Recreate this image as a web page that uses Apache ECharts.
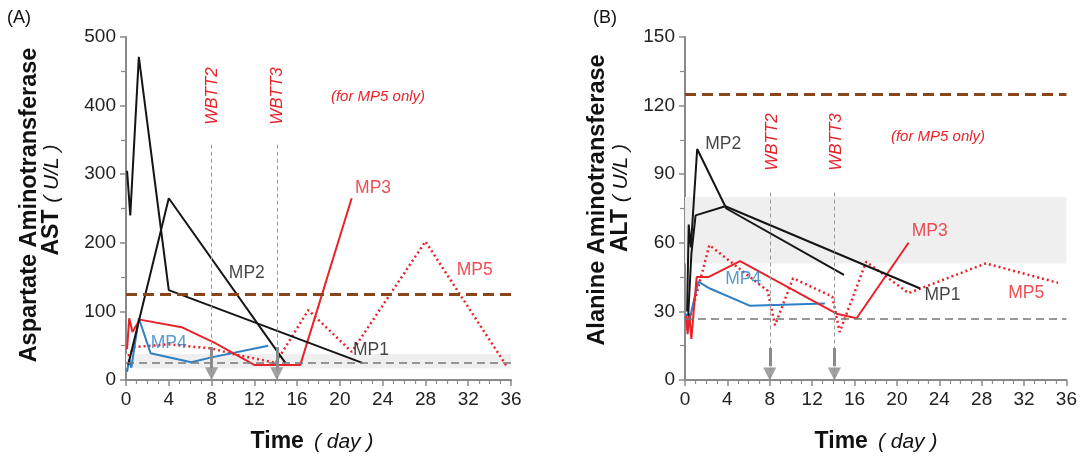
<!DOCTYPE html>
<html>
<head>
<meta charset="utf-8">
<script src="https://cdn.jsdelivr.net/npm/echarts@6/dist/echarts.min.js"></script>
<style>
  html, body { margin: 0; padding: 0; background: #fff; }
  #chart { width: 1080px; height: 457px; }
</style>
</head>
<body>
<div id="chart"></div>
<script>
// AST panel (A): [day, U/L]
const astMP1 = [[0.1, 305], [0.4, 240], [1.2, 471], [4.0, 131], [22.1, 25]]
const astMP2 = [[0.2, 22], [4.0, 265], [14.9, 25]]
const astMP3 = [[0.1, 45], [0.3, 90], [0.6, 70], [1.3, 88], [5.2, 77], [8.3, 54], [12, 22], [16.3, 22], [21.1, 265]]
const astMP4 = [[0.1, 12], [0.3, 30], [0.5, 18], [1.2, 90], [2.3, 39], [6.1, 26], [8, 33], [13.3, 50]]
const astMP5 = [[0.2, 35], [0.8, 48], [4, 52], [8, 46], [10, 38], [14, 25], [17.05, 102], [21.1, 41], [28, 202], [35.6, 20]]

// ALT panel (B): [day, U/L]
const altMP1 = [[0.3, 28], [0.6, 55], [1.0, 72], [3.8, 76], [22.2, 40]]
const altMP2 = [[0.2, 30], [0.35, 68], [0.55, 58], [1.15, 101], [3.9, 75], [15, 46]]
const altMP3 = [[0.1, 28], [0.25, 20], [0.4, 29], [0.6, 18], [1.1, 45], [2.2, 45], [5.2, 52], [14.3, 29], [16.2, 27], [21.1, 60]]
const altMP4 = [[0.1, 29], [0.3, 24], [1.25, 43], [2.35, 40], [6.1, 32.5], [13.2, 33.5]]
const altMP5 = [[0.2, 22], [2.3, 59], [7.8, 39], [8.5, 24], [10.2, 44.5], [13.9, 36.5], [14.6, 21], [17.1, 51.7], [21.1, 38], [28.4, 51], [35.2, 42.5]]

// reference levels
const astUpper = 125, astLower = 25, astBand = [17, 38]
const altUpper = 125, altLower = 27, altBand = [51, 80]

// whole body transfusion days
const wbttDays = [8, 14.1]
const wbttNames = ['WBTT2', 'WBTT3']

// series labels [name, day, value]
const astLabels = [['MP1', 22.9, 44], ['MP2', 11.3, 156], ['MP3', 23.1, 280], ['MP4', 4, 54], ['MP5', 32.6, 160]]
const altLabels = [['MP1', 24.3, 37], ['MP2', 3.6, 103], ['MP3', 23.1, 65], ['MP4', 5.5, 44], ['MP5', 32.2, 38]]

const FONT = '"Liberation Sans", Arial, sans-serif'
const BLACK = '#151515', RED = '#e8232a', BLUE = '#2d7fc6', BROWN = '#8a4518', GREY = '#8a8a8a'
const labelColor = { MP1: BLACK, MP2: BLACK, MP3: RED, MP4: BLUE, MP5: RED }

const chart = echarts.init(document.getElementById('chart'))

const xAxisBase = (gi) => ({
  type: 'value', gridIndex: gi, min: 0, max: 36, interval: 4,
  axisLine: { lineStyle: { color: GREY, width: 2 } },
  axisTick: { length: 6, lineStyle: { color: GREY, width: 1.5 } },
  minorTick: { show: true, splitNumber: 4, length: 4, lineStyle: { color: GREY, width: 1.2 } },
  axisLabel: { color: '#222', fontSize: 19, fontFamily: FONT, margin: 10 },
  splitLine: { show: false }
})
const yAxisBase = (gi, max, interval) => ({
  type: 'value', gridIndex: gi, min: 0, max: max, interval: interval,
  axisLine: { show: true, lineStyle: { color: GREY, width: 2 } },
  axisTick: { show: true, length: 6, lineStyle: { color: GREY, width: 1.5 } },
  minorTick: { show: true, splitNumber: 2, length: 5, lineStyle: { color: GREY, width: 1.2 } },
  axisLabel: { color: '#222', fontSize: 19, fontFamily: FONT, margin: 10 },
  splitLine: { show: false }
})

const line = (gi, data, color, dotted) => ({
  type: 'line', xAxisIndex: gi, yAxisIndex: gi, data: data,
  symbol: 'none', z: 4,
  lineStyle: { color: color, width: dotted ? 2.5 : 2, type: dotted ? [2, 3] : 'solid' }
})

// helper series: band, reference lines, wbtt markers
const refs = (gi, upper, lower, band, top, shaftTop, shaftBottom) => ({
  type: 'line', xAxisIndex: gi, yAxisIndex: gi, data: [], z: 1,
  markArea: {
    silent: true,
    itemStyle: { color: '#efefef' },
    data: [[{ yAxis: band[0] }, { yAxis: band[1] }]]
  },
  markLine: {
    silent: true, symbol: 'none', label: { show: false },
    data: [
      { yAxis: upper, lineStyle: { color: BROWN, width: 3, type: [11, 6] } },
      { yAxis: lower, lineStyle: { color: '#777', width: 1.5, type: [8, 5] } },
      ...wbttDays.map(d => [
        { coord: [d, top], lineStyle: { color: '#999', width: 1, type: [4, 3] } },
        { coord: [d, 0] }
      ]),
      ...wbttDays.map(d => [
        { coord: [d, shaftTop], lineStyle: { color: GREY, width: 3, type: 'solid' } },
        { coord: [d, shaftBottom] }
      ])
    ]
  }
})

const heads = (gi, headY) => ({
  type: 'scatter', xAxisIndex: gi, yAxisIndex: gi, z: 5,
  symbol: 'path://M0,0 L10,0 L5,10 Z', symbolSize: [13, 13],
  itemStyle: { color: GREY },
  data: wbttDays.map(d => [d, headY])
})

const labels = (gi, items) => ({
  type: 'scatter', xAxisIndex: gi, yAxisIndex: gi, z: 6, symbolSize: 0,
  data: items.map(it => ({
    value: [it[1], it[2]],
    label: { show: true, position: 'inside', formatter: it[0], color: labelColor[it[0]], fontSize: 17.5, fontFamily: FONT }
  }))
})

const txt = (x, y, text, font, fill, rot) => ({
  type: 'text', x: x, y: y, rotation: rot || 0,
  style: { text: text, font: font, fill: fill, align: 'center', verticalAlign: 'middle', textAlign: 'center', textVerticalAlign: 'middle' }
})
const richTxt = (x, y, text, rot) => ({
  type: 'text', x: x, y: y, rotation: rot || 0,
  style: {
    text: text, align: 'center', verticalAlign: 'middle', textAlign: 'center', textVerticalAlign: 'middle',
    rich: {
      b: { font: 'bold 23px ' + FONT, fill: '#111', fontWeight: 'bold', fontSize: 23, fontFamily: FONT, color: '#111' },
      i: { font: 'italic 21px ' + FONT, fill: '#111', fontStyle: 'italic', fontSize: 21, fontFamily: FONT, color: '#111' }
    }
  }
})

const R = Math.PI / 2
chart.setOption({
  animation: false,
  grid: [
    { left: 126, top: 37, width: 385, height: 343 },
    { left: 685, top: 37, width: 383, height: 343 }
  ],
  xAxis: [xAxisBase(0), xAxisBase(1)],
  yAxis: [yAxisBase(0, 500, 100), yAxisBase(1, 150, 30)],
  series: [
    refs(0, astUpper, astLower, astBand, 343, 48, 17),
    refs(1, altUpper, altLower, altBand, 82, 14, 6),
    line(0, astMP5, RED, true),
    line(0, astMP4, BLUE),
    line(0, astMP3, RED),
    line(0, astMP2, BLACK),
    line(0, astMP1, BLACK),
    line(1, altMP5, RED, true),
    line(1, altMP4, BLUE),
    line(1, altMP3, RED),
    line(1, altMP2, BLACK),
    line(1, altMP1, BLACK),
    heads(0, 9),
    heads(1, 2.6),
    labels(0, astLabels),
    labels(1, altLabels)
  ],
  graphic: [
    txt(19, 18, '(A)', '18px ' + FONT, '#111'),
    txt(605, 18, '(B)', '18px ' + FONT, '#111'),
    txt(30, 205, 'Aspartate Aminotransferase', 'bold 23.5px ' + FONT, '#111', R),
    richTxt(52, 200, '{b|AST}  {i|( U/L )}', R),
    txt(598, 200, 'Alanine Aminotransferase', 'bold 23.5px ' + FONT, '#111', R),
    richTxt(621, 198, '{b|ALT}  {i|( U/L )}', R),
    richTxt(312, 442, '{b|Time}   {i|( day )}'),
    richTxt(876, 442, '{b|Time}   {i|( day )}'),
    txt(378, 97, '(for MP5 only)', 'italic 15px ' + FONT, RED),
    txt(938, 137, '(for MP5 only)', 'italic 15px ' + FONT, RED),
    txt(212, 96, wbttNames[0], 'italic 17px ' + FONT, RED, R),
    txt(277, 96, wbttNames[1], 'italic 17px ' + FONT, RED, R),
    txt(772, 142, wbttNames[0], 'italic 17px ' + FONT, RED, R),
    txt(836, 142, wbttNames[1], 'italic 17px ' + FONT, RED, R)
  ]
})
</script>
</body>
</html>
